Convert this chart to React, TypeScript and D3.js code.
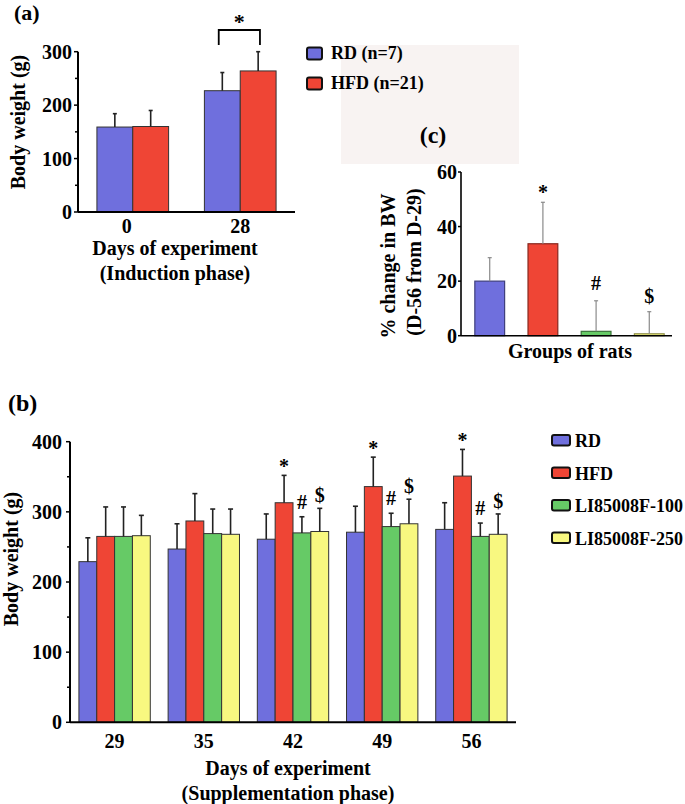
import React from "react";
import * as d3 from "d3";

// ---------- Data ----------
// Panel (a) induction phase
const inductionDays = ["0", "28"];
const inductionSeries = ["RD (n=7)", "HFD (n=21)"];
const inductionRD = [159, 227];
const inductionRDsd = [25, 34];
const inductionHFD = [160, 264];
const inductionHFDsd = [30, 36];

// Panel (b) supplementation phase
const suppDays = ["29", "35", "42", "49", "56"];
const suppSeries = ["RD", "HFD", "LI85008F-100", "LI85008F-250"];
const suppRD = [229, 247, 261, 271, 275];
const suppRDsd = [34, 36, 36, 37, 38];
const suppHFD = [265, 287, 313, 336, 351];
const suppHFDsd = [42, 39, 39, 42, 38];
const suppLI100 = [265, 269, 270, 279, 265];
const suppLI100sd = [42, 35, 23, 19, 19];
const suppLI250 = [266, 268, 272, 283, 268];
const suppLI250sd = [29, 36, 33, 35, 29];
const suppHFDmark = ["", "", "*", "*", "*"];
const suppLI100mark = ["", "", "#", "#", "#"];
const suppLI250mark = ["", "", "$", "$", "$"];

// Panel (c) % change
const changeGroups = ["RD", "HFD", "LI85008F-100", "LI85008F-250"];
const changeValues = [20, 33.7, 1.6, 0.7];
const changeSd = [8.6, 15.2, 11.2, 8.1];
const changeMarks = ["", "*", "#", "$"];

const colors = ["#6f6fdd", "#ef4535", "#66ca66", "#f8f880"];
const FONT = "'Liberation Serif', 'Times New Roman', serif";

const markOffset: Record<string, number> = { "*": 2, "#": 8, "$": 6 };

function ErrorBar({ x, y0, y1, cap = 4, stroke = "#222", sw = 1.6 }: any) {
  return (
    <g stroke={stroke} strokeWidth={sw}>
      <line x1={x} x2={x} y1={y0} y2={y1} />
      <line x1={x - cap / 2} x2={x + cap / 2} y1={y1} y2={y1} />
    </g>
  );
}

function YAxis({ scale, x, ticks, minor, labelDx, tickLen = 4, sw = 2 }: any) {
  const [r0, r1] = scale.range();
  return (
    <g>
      <line x1={x} x2={x} y1={r0} y2={r1} stroke="#000" strokeWidth={sw} />
      {ticks.map((t: number) => (
        <g key={"t" + t}>
          <line x1={x - tickLen} x2={x} y1={scale(t)} y2={scale(t)} stroke="#000" strokeWidth={1.5} />
          <text x={x - labelDx} y={scale(t)} dy="0.35em" textAnchor="end" fontSize={20} fontWeight="bold" fontFamily={FONT}>
            {t}
          </text>
        </g>
      ))}
      {(minor || []).map((t: number) => (
        <line key={"m" + t} x1={x - 3} x2={x} y1={scale(t)} y2={scale(t)} stroke="#000" strokeWidth={1.5} />
      ))}
    </g>
  );
}

function PanelA() {
  const x = d3.scaleBand().domain(inductionDays).range([78, 295]).paddingInner(0.333).paddingOuter(0.176);
  const xs = d3.scaleBand().domain(inductionSeries).range([0, x.bandwidth()]);
  const y = d3.scaleLinear().domain([0, 300]).range([212, 51.7]);
  const means = [inductionRD, inductionHFD];
  const sds = [inductionRDsd, inductionHFDsd];
  // bracket over day 28
  const b28 = x("28")!;
  const bx1 = b28 + xs(inductionSeries[0])! + xs.bandwidth() * 0.4;
  const bx2 = b28 + xs(inductionSeries[1])! + xs.bandwidth() * 0.55;
  return (
    <g>
      <text x={14} y={20} fontSize={22} fontWeight="bold" fontFamily={FONT}>(a)</text>
      {inductionDays.map((d, i) => (
        <g key={d}>
          {inductionSeries.map((s, j) => {
            const bx = x(d)! + xs(s)!;
            return (
              <g key={s}>
                <rect x={bx} y={y(means[j][i])} width={xs.bandwidth()} height={y(0) - y(means[j][i])} fill={colors[j]} stroke="#333" strokeWidth={1} />
                <ErrorBar x={bx + xs.bandwidth() / 2} y0={y(means[j][i])} y1={y(means[j][i] + sds[j][i])} />
              </g>
            );
          })}
          <text x={x(d)! + x.bandwidth() / 2 - (i === 0 ? 6 : 0)} y={233} textAnchor="middle" fontSize={20} fontWeight="bold" fontFamily={FONT}>{d}</text>
        </g>
      ))}
      <line x1={78} x2={295} y1={y(0)} y2={y(0)} stroke="#000" strokeWidth={2} />
      <YAxis scale={y} x={78} ticks={[0, 100, 200, 300]} minor={[50, 150, 250]} labelDx={6} />
      <path d={`M${bx1},45 V30 H${bx2} V45`} fill="none" stroke="#000" strokeWidth={1.8} />
      <text x={(bx1 + bx2) / 2} y={29} textAnchor="middle" fontSize={22} fontWeight="bold" fontFamily={FONT}>*</text>
      <text x={175} y={255} textAnchor="middle" fontSize={20} fontWeight="bold" fontFamily={FONT}>Days of experiment</text>
      <text x={175} y={280} textAnchor="middle" fontSize={20} fontWeight="bold" fontFamily={FONT}>(Induction phase)</text>
      <text transform="translate(25,122) rotate(-90)" textAnchor="middle" fontSize={20} fontWeight="bold" fontFamily={FONT}>Body weight (g)</text>
    </g>
  );
}

function LegendA() {
  return (
    <g>
      {inductionSeries.map((s, i) => (
        <g key={s} transform={`translate(0,${i * 30})`}>
          <rect x={307} y={47.5} width={15} height={12} rx={2} fill={colors[i]} stroke="#111" strokeWidth={2} />
          <text x={331} y={59} fontSize={18} fontWeight="bold" fontFamily={FONT}>{s}</text>
        </g>
      ))}
    </g>
  );
}

function PanelC() {
  const x = d3.scaleBand().domain(changeGroups).range([461, 678]).paddingInner(0.44).paddingOuter(0.26);
  const y = d3.scaleLinear().domain([0, 60]).range([335.7, 172]);
  return (
    <g>
      <text x={433} y={143} textAnchor="middle" fontSize={24} fontWeight="bold" fontFamily={FONT}>(c)</text>
      {changeGroups.map((g, i) => {
        const bx = x(g)!;
        const top = y(changeValues[i]);
        const et = y(changeValues[i] + changeSd[i]);
        const cx = bx + x.bandwidth() / 2;
        return (
          <g key={g}>
            <rect x={bx} y={top} width={x.bandwidth()} height={y(0) - top} fill={colors[i]} stroke={d3.color(colors[i])!.darker(1.6).formatHex()} strokeWidth={1.2} />
            <ErrorBar x={cx} y0={top} y1={et} cap={4} stroke="#8a8a8a" sw={1.2} />
            {changeMarks[i] && (
              <text x={cx} y={et - 1 - (markOffset[changeMarks[i]] ?? 0) - (changeMarks[i] === "*" ? 0 : 2)} textAnchor="middle" fontSize={20} fontWeight="bold" fontFamily={FONT}>{changeMarks[i]}</text>
            )}
          </g>
        );
      })}
      <line x1={461} x2={672} y1={y(0)} y2={y(0)} stroke="#000" strokeWidth={1.6} />
      <YAxis scale={y} x={461} ticks={[0, 20, 40, 60]} labelDx={4} tickLen={3} sw={1.6} />
      <text x={570} y={358} textAnchor="middle" fontSize={20} fontWeight="bold" fontFamily={FONT}>Groups of rats</text>
      <text transform="translate(395,266) rotate(-90)" textAnchor="middle" fontSize={20} fontWeight="bold" fontFamily={FONT}>% change in BW</text>
      <text transform="translate(421,262) rotate(-90)" textAnchor="middle" fontSize={20} fontWeight="bold" fontFamily={FONT}>(D-56 from D-29)</text>
    </g>
  );
}

function PanelB() {
  const x = d3.scaleBand().domain(suppDays).range([70, 516]).paddingInner(0.2).paddingOuter(0.1);
  const xs = d3.scaleBand().domain(suppSeries).range([0, x.bandwidth()]);
  const y = d3.scaleLinear().domain([0, 400]).range([722.3, 441.7]);
  const means = [suppRD, suppHFD, suppLI100, suppLI250];
  const sds = [suppRDsd, suppHFDsd, suppLI100sd, suppLI250sd];
  const marks = [suppDays.map(() => ""), suppHFDmark, suppLI100mark, suppLI250mark];
  return (
    <g>
      <text x={8} y={411} fontSize={24} fontWeight="bold" fontFamily={FONT}>(b)</text>
      {suppDays.map((d, i) => (
        <g key={d}>
          {suppSeries.map((s, j) => {
            const bx = x(d)! + xs(s)!;
            const top = y(means[j][i]);
            const et = y(means[j][i] + sds[j][i]);
            const cx = bx + xs.bandwidth() / 2;
            const m = marks[j][i];
            return (
              <g key={s}>
                <rect x={bx} y={top} width={xs.bandwidth()} height={y(0) - top} fill={colors[j]} stroke="#333" strokeWidth={1} />
                <ErrorBar x={cx} y0={top} y1={et} cap={5} />
                {m && (
                  <text x={cx} y={et - (markOffset[m] ?? 0)} textAnchor="middle" fontSize={20} fontWeight="bold" fontFamily={FONT}>{m}</text>
                )}
              </g>
            );
          })}
          <text x={x(d)! + x.bandwidth() / 2} y={748} textAnchor="middle" fontSize={20} fontWeight="bold" fontFamily={FONT}>{d}</text>
        </g>
      ))}
      <line x1={70} x2={516} y1={y(0)} y2={y(0)} stroke="#000" strokeWidth={2} />
      <YAxis scale={y} x={70} ticks={[0, 100, 200, 300, 400]} minor={[50, 150, 250, 350]} labelDx={8} />
      <text x={288} y={775} textAnchor="middle" fontSize={20} fontWeight="bold" fontFamily={FONT}>Days of experiment</text>
      <text x={288} y={800} textAnchor="middle" fontSize={20} fontWeight="bold" fontFamily={FONT}>(Supplementation phase)</text>
      <text transform="translate(18,559) rotate(-90)" textAnchor="middle" fontSize={20} fontWeight="bold" fontFamily={FONT}>Body weight (g)</text>
      {suppSeries.map((s, i) => (
        <g key={s} transform={`translate(0,${i * 32.5})`}>
          <rect x={552} y={435} width={18} height={10.5} rx={2} fill={colors[i]} stroke="#111" strokeWidth={2} />
          <text x={575} y={447} fontSize={18} fontWeight="bold" fontFamily={FONT}>{s}</text>
        </g>
      ))}
    </g>
  );
}

export default function App() {
  return (
    <svg width={685} height={804} style={{ position: "absolute", left: 0, top: 0, background: "#fff" }}>
      <rect x={0} y={0} width={685} height={804} fill="#fff" />
      <rect x={341} y={45} width={178} height={119} fill="#f8f3f2" />
      <PanelA />
      <LegendA />
      <PanelC />
      <PanelB />
    </svg>
  );
}
